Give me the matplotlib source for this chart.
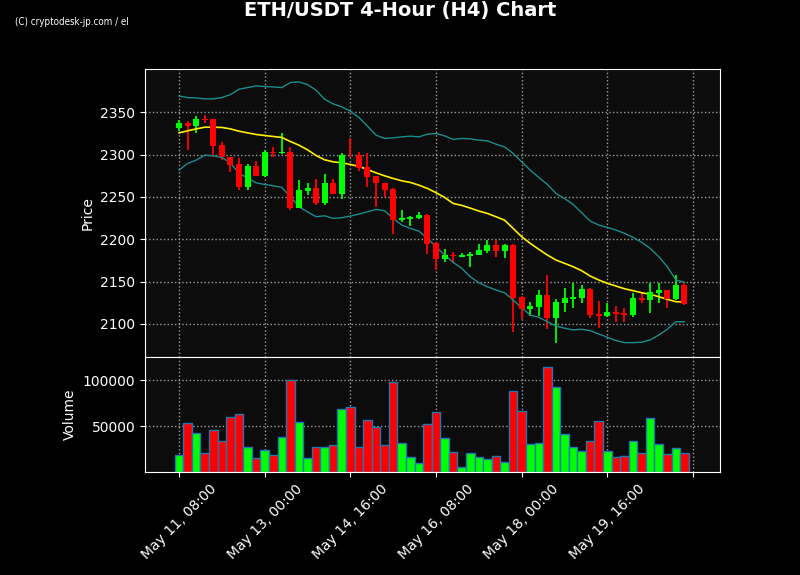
import numpy as np
import pandas as pd
import matplotlib
matplotlib.use("Agg")
import matplotlib.pyplot as plt

# candle data, 4h bars starting May 11 08:00
start = "2024-05-11 08:00"
opens = [2331.5, 2337.0, 2334.0, 2342.0, 2341.7, 2311.0, 2297.0, 2288.7, 2262.0, 2286.0,
         2275.0, 2303.0, 2301.5, 2303.0, 2237.0, 2257.2, 2260.4, 2243.0, 2266.3, 2253.7,
         2300.0, 2299.3, 2284.8, 2274.5, 2266.3, 2259.2, 2222.6, 2223.8, 2225.0, 2228.5,
         2195.2, 2176.3, 2181.0, 2179.5, 2180.6, 2181.8, 2186.4, 2193.2, 2186.4, 2193.2,
         2132.0, 2117.7, 2120.4, 2134.2, 2107.5, 2125.0, 2129.8, 2131.0, 2141.3, 2111.8,
         2110.0, 2114.0, 2113.0, 2110.6, 2130.7, 2128.7, 2137.0, 2140.0, 2129.5, 2146.0]
highs = [2340.6, 2340.2, 2346.0, 2347.0, 2342.5, 2315.0, 2297.3, 2295.4, 2288.7, 2292.0,
         2305.0, 2309.0, 2325.0, 2308.4, 2269.5, 2266.0, 2270.6, 2276.5, 2271.4, 2301.3,
         2320.0, 2302.5, 2301.3, 2275.0, 2266.5, 2261.0, 2234.4, 2227.0, 2231.7, 2229.7,
         2197.0, 2189.0, 2185.0, 2183.8, 2185.0, 2195.0, 2199.0, 2199.0, 2194.0, 2195.0,
         2132.5, 2126.0, 2140.0, 2157.8, 2129.5, 2143.0, 2148.0, 2146.0, 2142.0, 2127.5,
         2125.0, 2121.2, 2119.0, 2137.0, 2136.0, 2148.7, 2148.7, 2140.5, 2157.4, 2148.7]
lows = [2328.0, 2304.8, 2325.0, 2337.0, 2297.3, 2293.4, 2280.0, 2258.0, 2258.0, 2275.0,
        2274.0, 2296.6, 2300.5, 2235.0, 2236.4, 2252.0, 2240.0, 2240.0, 2253.7, 2247.0,
        2297.3, 2281.0, 2261.3, 2238.4, 2250.0, 2205.8, 2220.7, 2215.6, 2224.0, 2182.6,
        2163.7, 2173.5, 2171.6, 2179.0, 2167.6, 2181.0, 2183.4, 2179.0, 2177.5, 2091.0,
        2105.5, 2109.0, 2110.0, 2094.0, 2077.0, 2114.5, 2118.5, 2124.4, 2106.7, 2095.0,
        2108.6, 2102.0, 2102.7, 2108.0, 2124.4, 2113.3, 2124.4, 2118.5, 2128.3, 2122.4]
closes = [2337.4, 2334.0, 2341.7, 2341.0, 2310.3, 2297.3, 2288.0, 2262.0, 2286.0, 2275.0,
          2303.2, 2302.0, 2302.5, 2237.0, 2258.0, 2260.4, 2243.0, 2266.3, 2253.7, 2299.3,
          2299.3, 2284.3, 2273.7, 2266.3, 2258.4, 2223.0, 2225.4, 2226.6, 2228.5, 2195.0,
          2176.3, 2181.0, 2180.0, 2181.4, 2183.0, 2187.3, 2193.2, 2186.4, 2193.2, 2131.0,
          2117.7, 2121.6, 2134.2, 2107.5, 2126.0, 2130.7, 2132.0, 2141.3, 2110.6, 2110.0,
          2114.0, 2112.0, 2111.0, 2131.0, 2128.7, 2137.4, 2140.0, 2129.5, 2146.0, 2123.6]
volumes = [18800, 52900, 42000, 20300, 45300, 33300, 59400, 62600, 27500, 14900,
           23600, 18100, 37700, 100600, 54000, 14900, 26800, 26800, 29000, 68100,
           70200, 26800, 56100, 48500, 29000, 97400, 31200, 16600, 9400, 51800,
           64800, 36600, 21400, 5800, 20300, 16000, 13800, 17000, 10500, 87600,
           65900, 30100, 31200, 113700, 93000, 40900, 26800, 22500, 33300, 55000,
           22500, 16000, 17000, 33300, 20300, 58300, 30100, 19200, 25700, 20300]

# bollinger bands (20)
bb_upper = [2369.2, 2367.3, 2366.9, 2365.7, 2365.7, 2367.3, 2370.8, 2377.1, 2379.1, 2381.0,
            2380.3, 2379.8, 2379.1, 2385.0, 2385.7, 2382.7, 2376.0, 2365.3, 2359.8, 2356.3,
            2351.2, 2343.8, 2333.5, 2322.9, 2319.0, 2319.7, 2320.9, 2321.7, 2320.9, 2324.0,
            2324.9, 2322.1, 2317.8, 2319.0, 2318.5, 2317.0, 2316.2, 2312.3, 2309.1, 2301.3,
            2291.4, 2281.6, 2273.0, 2264.7, 2254.1, 2248.2, 2241.2, 2231.3, 2221.5, 2216.8,
            2214.0, 2210.9, 2207.0, 2202.2, 2196.4, 2189.3, 2179.4, 2167.6, 2151.9, 2149.2]
bb_mid = [2325.6, 2328.0, 2330.3, 2332.3, 2332.3, 2332.0, 2330.3, 2327.6, 2325.6, 2323.7,
          2322.5, 2321.3, 2320.2, 2315.4, 2311.1, 2305.6, 2298.9, 2293.8, 2291.4, 2290.2,
          2288.3, 2286.0, 2282.4, 2278.4, 2274.9, 2271.8, 2269.0, 2267.1, 2263.9, 2260.0,
          2255.0, 2249.4, 2242.3, 2240.0, 2236.8, 2233.3, 2230.5, 2226.6, 2222.6, 2212.9,
          2203.0, 2195.2, 2188.1, 2181.4, 2175.5, 2171.6, 2167.6, 2162.9, 2156.6, 2151.9,
          2148.0, 2144.8, 2141.6, 2139.3, 2136.9, 2135.0, 2132.2, 2129.1, 2126.3, 2126.0]
bb_lower = [2281.6, 2289.5, 2293.4, 2299.3, 2298.5, 2296.6, 2290.2, 2277.7, 2272.5, 2266.6,
            2264.7, 2263.1, 2261.2, 2250.1, 2238.3, 2232.4, 2226.6, 2227.7, 2224.7, 2225.4,
            2227.4, 2229.7, 2232.4, 2235.3, 2233.6, 2224.7, 2216.8, 2212.9, 2209.7, 2201.1,
            2191.2, 2181.4, 2172.8, 2165.7, 2155.8, 2148.7, 2144.0, 2140.1, 2136.9, 2128.3,
            2119.2, 2110.6, 2107.9, 2102.7, 2097.7, 2095.0, 2093.0, 2093.8, 2092.1, 2088.2,
            2084.3, 2080.4, 2078.0, 2078.0, 2078.4, 2081.1, 2087.0, 2093.8, 2102.7, 2102.7]

opens = np.array(opens)
closes = np.array(closes)
x = np.arange(len(opens))
dates = pd.date_range(start, periods=len(opens), freq="4h")
colors = np.where(closes >= opens, "#00ff00", "#ff0000")

fig = plt.figure(figsize=(8, 5.75), dpi=100, facecolor="black")
ax1 = fig.add_axes([0.18125, 0.3791, 0.71875, 0.5009])
ax2 = fig.add_axes([0.18125, 0.1791, 0.71875, 0.2], sharex=ax1)

for ax in (ax1, ax2):
    ax.set_facecolor("#0c0c0c")
    for s in ax.spines.values():
        s.set_color("white")
    ax.tick_params(colors="white", labelsize=10)
    ax.grid(True, linestyle=":", color="#9a9a9a", linewidth=1)
    ax.set_axisbelow(True)

# wicks and bodies
ax1.vlines(x, lows, highs, color=colors, linewidth=1.3, zorder=2)
body = np.abs(closes - opens)
body = np.maximum(body, 0.6)
ax1.bar(x, body, bottom=np.minimum(opens, closes), width=0.7, color=colors, zorder=3)

ax1.plot(x, bb_upper, color="#1a8c8c", linewidth=1)
ax1.plot(x, bb_lower, color="#1a8c8c", linewidth=1)
ax1.plot(x, bb_mid, color="#ffee00", linewidth=1.2)
ax1.set_ylim(2061, 2401)
ax1.set_yticks([2100, 2150, 2200, 2250, 2300, 2350])
ax1.set_ylabel("Price", color="white", fontsize=10)
ax1.tick_params(labelbottom=False)

ax2.bar(x, volumes, width=1.0, color=colors, edgecolor="#1f77b4", linewidth=1)
ax2.set_ylim(0, max(volumes) * 1.1)
ax2.set_yticks([50000, 100000])
ax2.set_ylabel("Volume", color="white", fontsize=10)

ticks = np.arange(0, 61, 10)
labels = [dates[t].strftime("%b %d, %H:%M") if t < len(dates) else "" for t in ticks]
ax2.set_xticks(ticks)
ax2.set_xticklabels(labels, rotation=45, ha="center")
ax2.set_xlim(-3.97, 63.15)

fig.text(0.5, 0.981, "ETH/USDT 4-Hour (H4) Chart", color="white", fontsize=14,
         fontweight="bold", ha="center", va="center")
fig.text(0.019, 0.962, "(C) cryptodesk-jp.com / el", color="white", fontsize=7,
         family="DejaVu Sans", fontstretch="condensed", ha="left", va="center")

fig.savefig("out.png", dpi=100, facecolor="black")
